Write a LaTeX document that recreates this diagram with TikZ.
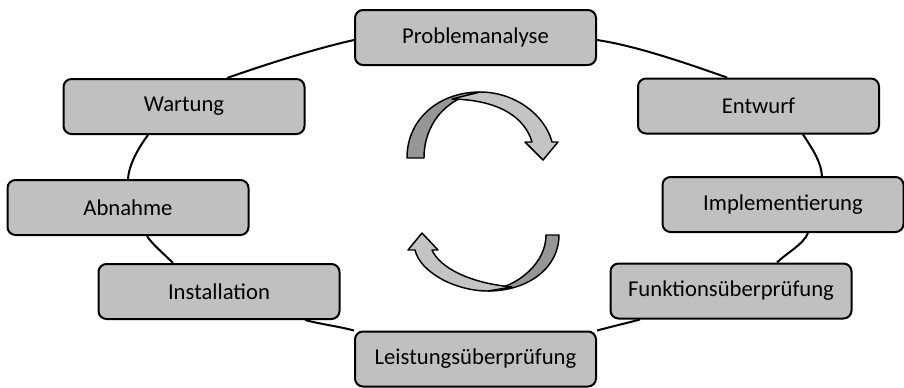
\documentclass[tikz,border=0pt]{standalone}
\usepackage{fontspec}
\setmainfont{Carlito}
\usepackage{xcolor}
\usepackage{tikz}
\usetikzlibrary{calc,backgrounds}

\tikzset{
  phase/.style={draw={rgb, 255:red, 0; green, 0; blue, 0 },fill={rgb, 255:red, 192; green, 192; blue, 192 },line width=1.5,rounded corners=6pt,minimum width=180.75pt,minimum height=41.25pt,inner sep=0.75pt,font=\fontsize{17}{20}\selectfont},
  cycleline/.style={color={rgb, 255:red, 0; green, 0; blue, 0 },line width=1.5},
  bandback/.style={draw={rgb, 255:red, 0; green, 0; blue, 0 },fill={rgb, 255:red, 150; green, 150; blue, 150 },line width=1.1,line join=round},
  bandfront/.style={draw={rgb, 255:red, 0; green, 0; blue, 0 },fill={rgb, 255:red, 196; green, 196; blue, 196 },line width=1.1,line join=round}
}

\begin{document}
\begin{tikzpicture}[x=0.75pt,y=0.75pt,yscale=-1,xscale=1]
\useasboundingbox (0,0) rectangle (904,387);
% Text Node
\node [phase] (prob) at (475.5,37.5) {Problemanalyse};
% Text Node
\node [phase] (entw) at (758.5,106) {Entwurf};
% Text Node
\node [phase] (impl) at (783,204.5) {Implementierung};
% Text Node
\node [phase] (funk) at (731,291) {Funktionsüberprüfung};
% Text Node
\node [phase] (leis) at (475.5,359) {Leistungsüberprüfung};
% Text Node
\node [phase] (inst) at (219,291.5) {Installation};
% Text Node
\node [phase] (abn) at (128,207.5) {Abnahme};
% Text Node
\node [phase] (wart) at (184,106.5) {Wartung};

\begin{pgfonlayer}{background}
%Curve Lines
\draw [cycleline] ($(wart.north)+(43,0)$) .. controls +(40,-14) and +(-40,9) .. ($(prob.west)+(0,2.5)$) ;
%Curve Lines
\draw [cycleline] ($(prob.east)+(0,2.5)$) .. controls +(40,6) and +(-40,-14) .. ($(entw.north)+(-31.5,0)$) ;
%Curve Lines
\draw [cycleline] ($(entw.south)+(44.5,0)$) .. controls +(10,15) and +(-1,-14) .. ($(impl.north)+(39,0)$) ;
%Curve Lines
\draw [cycleline] ($(impl.south)+(25,0)$) .. controls +(-5,12) and +(10,-10) .. ($(funk.north)+(46,0)$) ;
%Curve Lines
\draw [cycleline] ($(funk.south)+(-91,0)$) .. controls +(-15,4) and +(15,-4) .. (leis.north east) ;
%Curve Lines
\draw [cycleline] (leis.north west) .. controls +(-15,-4) and +(15,4) .. ($(inst.south)+(86,0)$) ;
%Curve Lines
\draw [cycleline] ($(inst.north)+(-46,0)$) .. controls +(-10,-10) and +(5,8) .. ($(abn.south)+(19,0)$) ;
%Curve Lines
\draw [cycleline] (abn.north) .. controls +(1,-15) and +(-9,12) .. ($(wart.south)+(-36,0)$) ;
\end{pgfonlayer}

%Shape: Circular Arrow (upper)
\draw [bandback] (407,158) -- (424,158) .. controls (424,125) and (445,98) .. (480,92) .. controls (440,92) and (407,118) .. (407,158) -- cycle ;
\draw [bandfront] (480,92) .. controls (515,92) and (545,115) .. (552,142) -- (558,142) -- (543,160) -- (525,142) -- (532,142) .. controls (525,118) and (500,100) .. (452,99) -- cycle ;
%Shape: Circular Arrow (lower)
\draw [bandback] (546,235) -- (559,235) .. controls (559,268) and (528,291) .. (488,291) .. controls (520,286) and (546,262) .. (546,235) -- cycle ;
\draw [bandfront] (488,291) .. controls (455,291) and (420,272) .. (415,250) -- (408,250) -- (422,233) -- (438,250) -- (432,250) .. controls (440,268) and (470,283) .. (512,287) -- cycle ;
\end{tikzpicture}
\end{document}
